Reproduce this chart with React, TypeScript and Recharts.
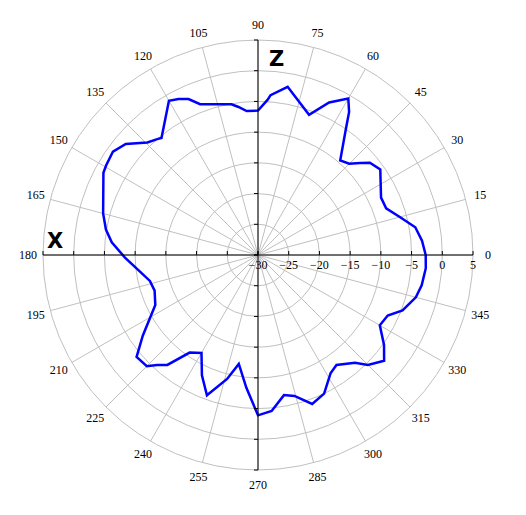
import {
  RadarChart,
  Radar,
  PolarGrid,
  PolarAngleAxis,
  PolarRadiusAxis,
} from "recharts";

// pattern angle (deg) and gain (dB)
const angles = [
  0, 5, 10, 15, 20, 25, 35, 39.5, 42, 45, 49, 55, 57.5, 60, 65, 70, 80, 85.5,
  86.5, 90, 94.5, 97.5, 100, 111, 114, 117, 120, 129.5, 131, 134.5, 140, 144.5,
  149.5, 152, 165, 170.5, 175, 181, 188, 193.5, 199, 206, 215, 220, 225, 227.5,
  230.5, 235, 240, 245, 250, 256, 260, 265, 270, 275, 280.5, 284.5, 290, 295.5,
  301.5, 305.5, 312, 315, 320, 324.5, 330, 335, 339, 345, 349.5, 355.5,
];
const gain = [
  -2.7, -3.2, -4.0, -6.1, -7.8, -7.9, -5.7, -6.4, -7.6, -9.0, -9.6, -5.1, -2.4,
  -0.6, -2.6, -5.7, -2.2, -3.9, -4.7, -6.5, -6.5, -5.7, -5.1, -3.7, -2.2, -1.5,
  -1.0, -5.3, -5.0, -4.3, -1.9, -1.0, -1.3, -1.5, -3.9, -4.9, -6.1, -8.3, -10.6,
  -11.9, -12.2, -11.4, -7.1, -4.2, -4.4, -5.7, -6.8, -10.6, -11.6, -8.4, -5.7,
  -9.2, -12.0, -8.3, -3.9, -4.5, -6.8, -6.3, -4.2, -5.0, -7.4, -8.0, -6.4, -4.7,
  -3.2, -4.8, -7.1, -6.7, -4.8, -3.4, -2.9, -2.6,
];
const angleTicks = [
  0, 15, 30, 45, 60, 75, 90, 105, 120, 135, 150, 165, 180, 195, 210, 225, 240,
  255, 270, 285, 300, 315, 330, 345,
];
const radiusTicks = [-30, -25, -20, -15, -10, -5, 0, 5];

const data = angles.map((a, i) => ({ angle: a, gain: gain[i] }));

const CX = 258;
const CY = 255;
const R = 215;
const font = "'Liberation Serif', 'Times New Roman', serif";

const AngleTick = (props: any) => {
  const { x, y, payload } = props;
  const dx = x - CX;
  const dy = y - CY;
  const d = Math.hypot(dx, dy) || 1;
  return (
    <text
      x={CX + (dx / d) * 230}
      y={CY + (dy / d) * 230}
      textAnchor="middle"
      dominantBaseline="central"
      fontFamily={font}
      fontSize={12}
      fill="#000"
    >
      {payload.value}
    </text>
  );
};

const RadiusTick = (props: any) => {
  const { x, y, payload } = props;
  return (
    <g>
      <line x1={x} y1={y - 4} x2={x} y2={y} stroke="#000" />
      <text
        x={x}
        y={y + 14}
        textAnchor="middle"
        fontFamily={font}
        fontSize={12}
        fill="#000"
      >
        {String(payload.value).replace("-", "\u2212")}
      </text>
    </g>
  );
};

const HTick = (props: any) => {
  const { x, y } = props;
  return <line x1={x} y1={y - 4} x2={x} y2={y} stroke="#000" />;
};

const VTick = (props: any) => {
  const { x, y } = props;
  return <line x1={x - 4} y1={y} x2={x} y2={y} stroke="#000" />;
};

const App: React.FC = () => {
  return (
    <div style={{ position: "absolute", left: 0, top: 0, width: 526, height: 515 }}>
      <RadarChart
        width={526}
        height={515}
        cx={CX}
        cy={CY}
        outerRadius={R}
        startAngle={0}
        endAngle={360}
        data={data}
        margin={{ top: 0, right: 0, bottom: 0, left: 0 }}
      >
        <PolarGrid gridType="circle" stroke="#c0c0c0" />
        <PolarAngleAxis
          dataKey="angle"
          type="number"
          domain={[0, 360]}
          ticks={angleTicks}
          axisLine={false}
          tickLine={false}
          tick={<AngleTick />}
        />
        <PolarRadiusAxis
          angle={90}
          domain={[-30, 5]}
          ticks={radiusTicks}
          tickCount={8}
          axisLine={{ stroke: "#000" }}
          tick={<VTick />}
        />
        <PolarRadiusAxis
          angle={270}
          domain={[-30, 5]}
          ticks={radiusTicks}
          tickCount={8}
          axisLine={{ stroke: "#000" }}
          tick={<VTick />}
        />
        <PolarRadiusAxis
          angle={180}
          domain={[-30, 5]}
          ticks={radiusTicks}
          tickCount={8}
          axisLine={{ stroke: "#000" }}
          tick={<HTick />}
        />
        <PolarRadiusAxis
          angle={0}
          domain={[-30, 5]}
          ticks={radiusTicks}
          tickCount={8}
          axisLine={{ stroke: "#000" }}
          tick={<RadiusTick />}
        />
        <Radar
          dataKey="gain"
          stroke="#0000ff"
          strokeWidth={2.5}
          fill="none"
          fillOpacity={0}
          dot={false}
          isAnimationActive={false}
        />
      </RadarChart>
      <svg
        width={526}
        height={515}
        style={{ position: "absolute", left: 0, top: 0, pointerEvents: "none" }}
      >
        <text x={47} y={248} fontFamily="'DejaVu Sans', sans-serif" fontWeight="bold" fontSize={21} fill="#000">
          X
        </text>
        <text x={269} y={66} fontFamily="'DejaVu Sans', sans-serif" fontWeight="bold" fontSize={21} fill="#000">
          Z
        </text>
      </svg>
    </div>
  );
};

export default App;
